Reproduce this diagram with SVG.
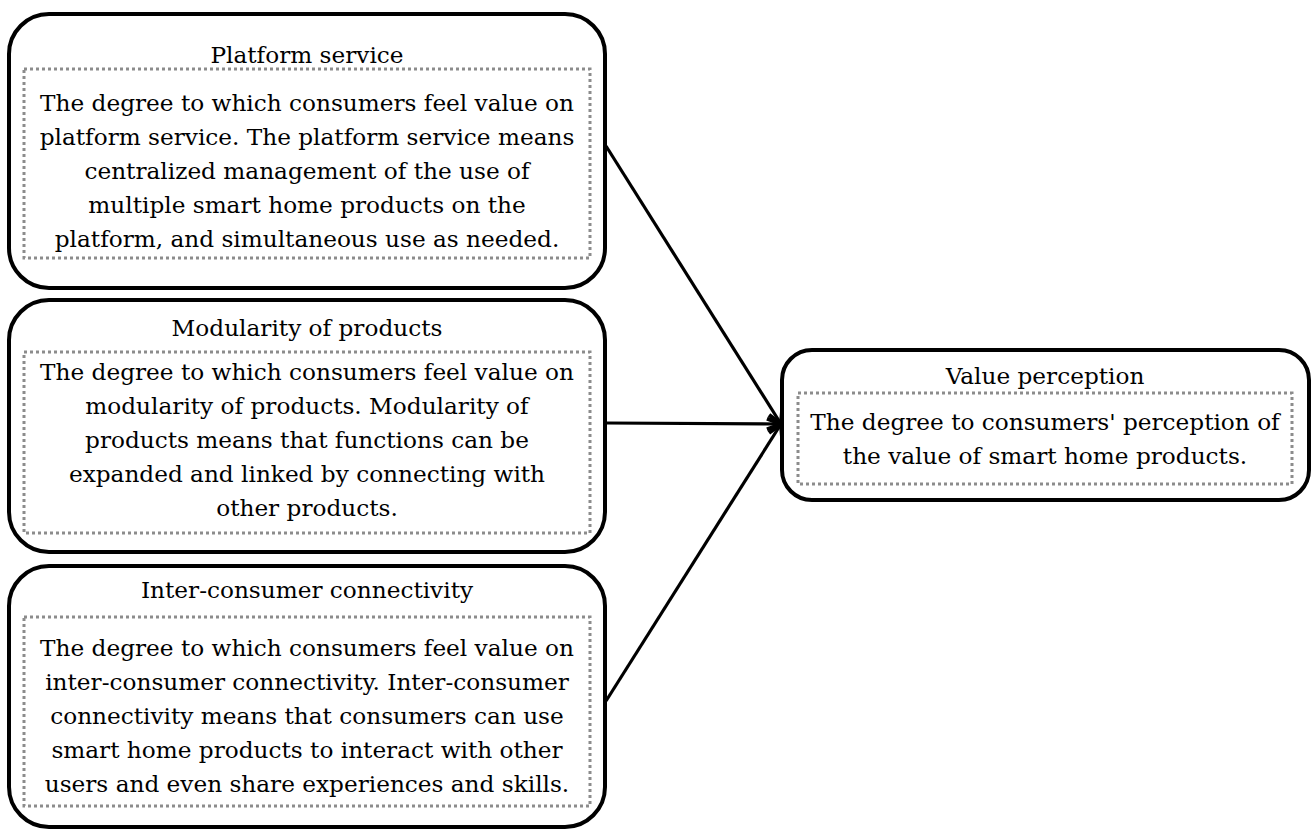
<svg xmlns="http://www.w3.org/2000/svg" width="1314" height="830" viewBox="0 0 1314 830">
  <style>
    .outer { fill: #ffffff; stroke: #000000; stroke-width: 4; }
    .inner { fill: none; stroke: #8c8c8c; stroke-width: 3; stroke-dasharray: 3 3; }
    .title { font-family: "DejaVu Serif", "Liberation Serif", serif; font-size: 23.2px; fill: #000000; text-anchor: middle; }
    .body { font-family: "DejaVu Serif", "Liberation Serif", serif; font-size: 23.2px; fill: #000000; text-anchor: middle; }
    .edge { fill: none; stroke: #000000; stroke-width: 3.2; }
  </style>
  <defs>
    <marker id="arrow" viewBox="0 0 16 22" refX="14" refY="11" markerWidth="16" markerHeight="22" markerUnits="userSpaceOnUse" orient="auto">
      <path d="M2,2 L14,11 L2,20" fill="none" stroke="#000000" stroke-width="4" stroke-linejoin="miter"/>
    </marker>
  </defs>
  <rect width="1314" height="830" fill="#ffffff"/>

  <g id="connectors">
    <line class="edge" x1="606" y1="146" x2="781" y2="424" marker-end="url(#arrow)"/>
    <line class="edge" x1="606" y1="423" x2="781" y2="424" marker-end="url(#arrow)"/>
    <line class="edge" x1="606" y1="701" x2="781" y2="424" marker-end="url(#arrow)"/>
  </g>

  <g id="platform-service">
    <rect class="outer" x="9" y="14" width="596" height="274" rx="40" ry="40"/>
    <rect class="inner" x="24" y="69" width="566" height="189"/>
    <text class="title" x="307" y="63">Platform service</text>
    <text class="body" x="307" y="111">The degree to which consumers feel value on</text>
    <text class="body" x="307" y="145">platform service. The platform service means</text>
    <text class="body" x="307" y="179">centralized management of the use of</text>
    <text class="body" x="307" y="213">multiple smart home products on the</text>
    <text class="body" x="307" y="247">platform, and simultaneous use as needed.</text>
  </g>

  <g id="modularity-of-products">
    <rect class="outer" x="9" y="300" width="596" height="252" rx="40" ry="40"/>
    <rect class="inner" x="24" y="352" width="566" height="181"/>
    <text class="title" x="307" y="336">Modularity of products</text>
    <text class="body" x="307" y="380">The degree to which consumers feel value on</text>
    <text class="body" x="307" y="414">modularity of products. Modularity of</text>
    <text class="body" x="307" y="448">products means that functions can be</text>
    <text class="body" x="307" y="482">expanded and linked by connecting with</text>
    <text class="body" x="307" y="516">other products.</text>
  </g>

  <g id="inter-consumer-connectivity">
    <rect class="outer" x="9" y="566" width="596" height="261" rx="40" ry="40"/>
    <rect class="inner" x="24" y="617" width="566" height="189"/>
    <text class="title" x="307" y="598">Inter-consumer connectivity</text>
    <text class="body" x="307" y="656">The degree to which consumers feel value on</text>
    <text class="body" x="307" y="690">inter-consumer connectivity. Inter-consumer</text>
    <text class="body" x="307" y="724">connectivity means that consumers can use</text>
    <text class="body" x="307" y="758">smart home products to interact with other</text>
    <text class="body" x="307" y="792">users and even share experiences and skills.</text>
  </g>

  <g id="value-perception">
    <rect class="outer" x="782" y="350" width="527" height="150" rx="30" ry="30"/>
    <rect class="inner" x="798" y="393" width="494" height="91"/>
    <text class="title" x="1045" y="384">Value perception</text>
    <text class="body" x="1045" y="430">The degree to consumers' perception of</text>
    <text class="body" x="1045" y="464">the value of smart home products.</text>
  </g>
</svg>
